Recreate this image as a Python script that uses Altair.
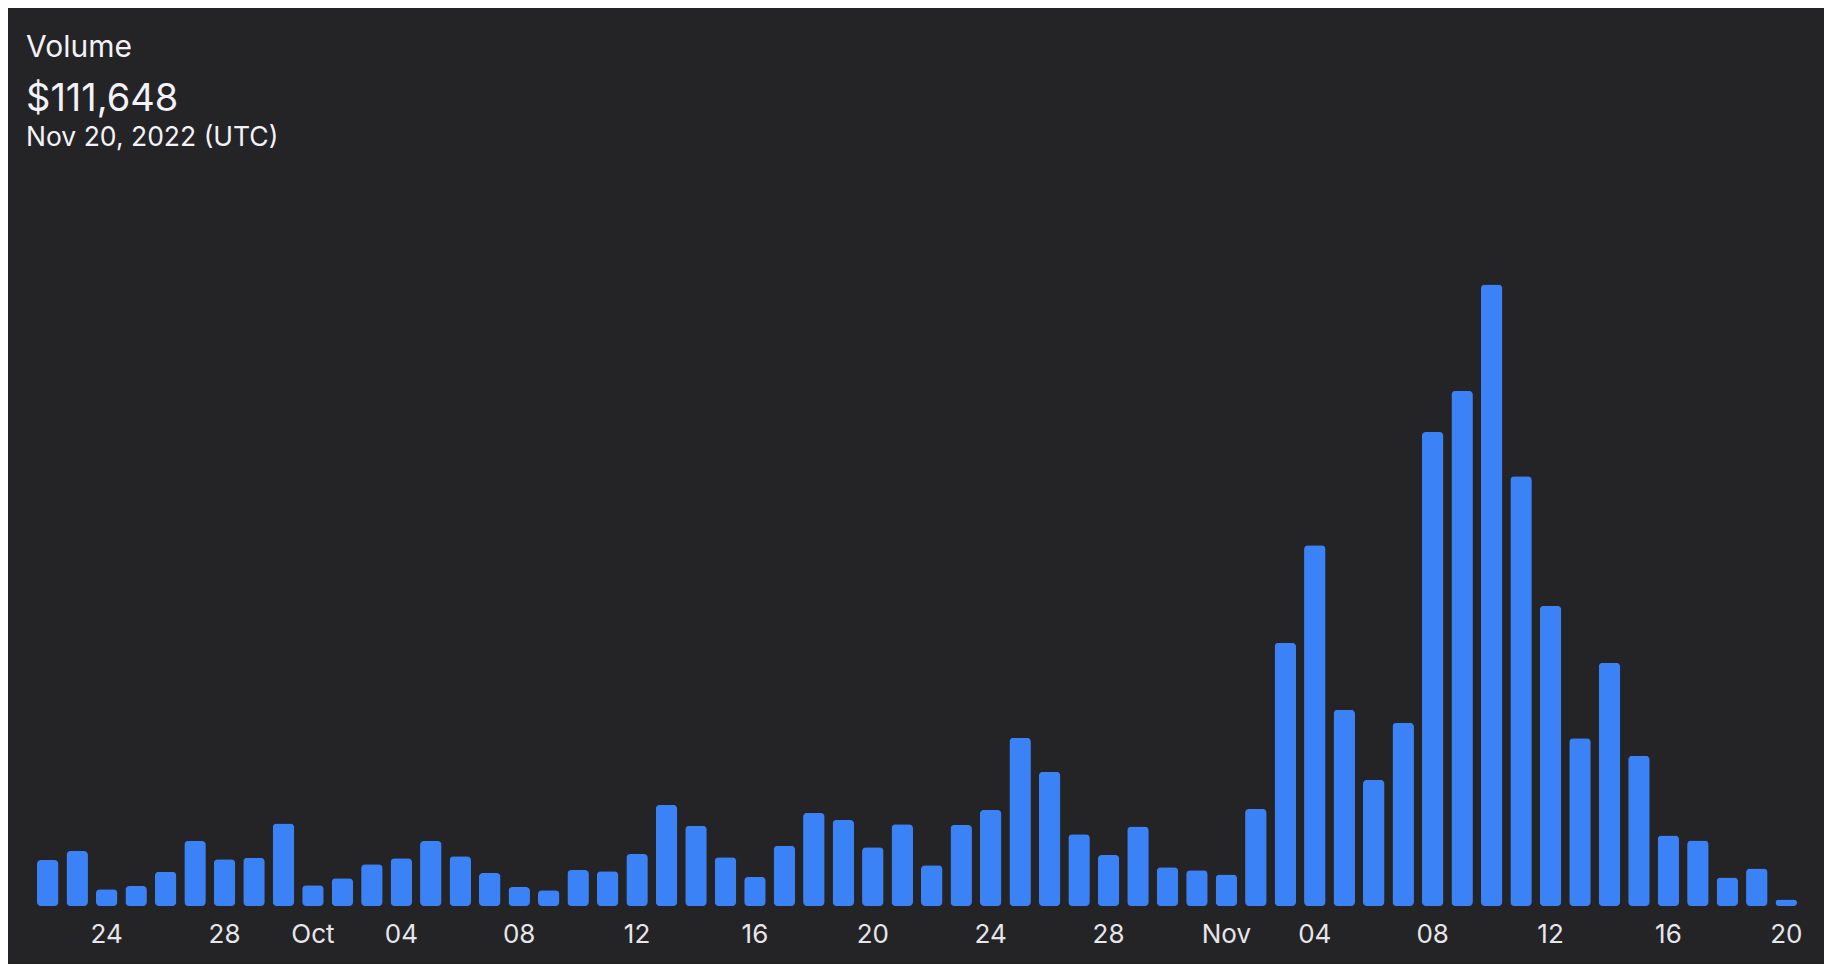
import altair as alt
import pandas as pd

# ---- data ----
start_date = "2022-09-22"
volumes = [
    790000, 945000, 287000, 344000, 590000, 1118000, 803000, 831000, 1416000,  # Sep 22-30
    356000, 476000, 717000, 820000, 1118000, 855000, 568000, 327000, 270000,   # Oct 1-9
    619000, 597000, 894000, 1737000, 1381000, 838000, 499000, 1037000, 1600000,  # Oct 10-18
    1479000, 1010000, 1405000, 700000, 1393000, 1651000, 2890000, 2305000,     # Oct 19-26
    1233000, 877000, 1364000, 666000, 614000,                                  # Oct 27-31
    542000, 1668000, 4524000, 6199000, 3371000, 2167000, 3148000, 8146000,     # Nov 1-8
    8851000, 10681000, 7386000, 5160000, 2881000, 4180000, 2580000, 1213000,   # Nov 9-16
    1127000, 490000, 645000, 111648,                                           # Nov 17-20
]
dates = [d.strftime("%Y-%m-%d") for d in pd.date_range(start_date, periods=len(volumes), freq="D")]
tick_dates = [
    "2022-09-24", "2022-09-28", "2022-10-01", "2022-10-04", "2022-10-08", "2022-10-12",
    "2022-10-16", "2022-10-20", "2022-10-24", "2022-10-28", "2022-11-01", "2022-11-04",
    "2022-11-08", "2022-11-12", "2022-11-16", "2022-11-20",
]
title_text = "Volume"
value_text = "$111,648"
date_text = "Nov 20, 2022 (UTC)"

y_domain_max = 15430000

BG = "#242427"
BAR = "#3B82F6"
FONT = "Inter"

df = pd.DataFrame({"date": dates, "volume": volumes})

bars = alt.Chart(df).mark_bar(color=BAR, cornerRadius=4).encode(
    x=alt.X(
        "date:O",
        sort=dates,
        scale=alt.Scale(paddingInner=0.27, paddingOuter=0.135),
        axis=alt.Axis(
            title=None,
            values=tick_dates,
            labelExpr="utcdate(toDate(datum.value)) == 1 ? utcFormat(toDate(datum.value), '%b') : utcFormat(toDate(datum.value), '%d')",
            labelAngle=0,
            labelFont=FONT,
            labelFontSize=26,
            labelColor="#E6E6EB",
            labelBaseline="alphabetic",
            labelPadding=36,
            ticks=False,
            domain=False,
            grid=False,
        ),
    ),
    y=alt.Y(
        "volume:Q",
        scale=alt.Scale(domain=[0, y_domain_max], nice=False),
        axis=None,
    ),
)

def label(txt, size, yv):
    return alt.Chart(pd.DataFrame({"t": [txt]})).mark_text(
        align="left", baseline="alphabetic", font=FONT, fontSize=size, color="#F2F2F7"
    ).encode(text="t:N", x=alt.value(-7), y=alt.value(yv))

chart = alt.layer(
    bars,
    label(title_text, 30, 48.7),
    label(value_text, 38, 102.7),
    label(date_text, 26.5, 138),
).properties(
    width=1768,
    height=898,
    background=BG,
    padding={"left": 25, "right": 23, "top": 0, "bottom": 58},
    autosize=alt.AutoSizeParams(type="none"),
).configure_view(stroke=None)

chart.save("out.html", embed_options={"renderer": "svg", "actions": False})
